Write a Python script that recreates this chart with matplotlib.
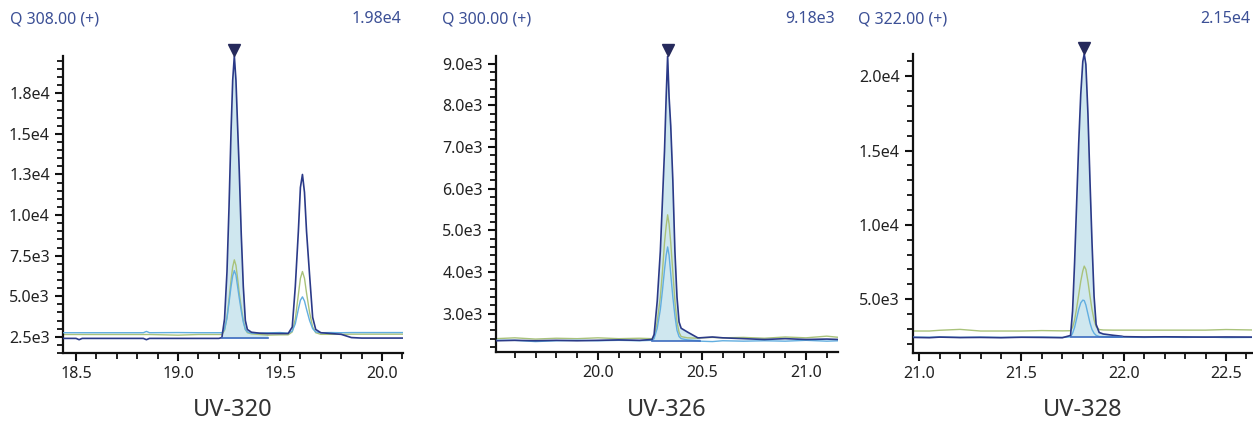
"""Three extracted-ion chromatograms (UV-320 / UV-326 / UV-328) side by side."""
import numpy as np
import matplotlib.pyplot as plt
from matplotlib.ticker import FixedLocator, MultipleLocator
from matplotlib.transforms import offset_copy

plt.rcParams['font.family'] = ['Noto Sans', 'DejaVu Sans']

# ============================================================
# Data (retention time in min, intensity)
# ============================================================

# --- UV-320 ---
t1 = [18.44, 18.50, 18.515, 18.53, 18.70, 18.83, 18.845, 18.86, 19.00, 19.10, 19.20,
      19.215, 19.228, 19.24, 19.25, 19.26, 19.268, 19.276, 19.284, 19.292, 19.30,
      19.31, 19.32, 19.33, 19.34, 19.36, 19.40, 19.44, 19.50, 19.54, 19.56,
      19.575, 19.59, 19.60, 19.61, 19.62, 19.63, 19.645, 19.66, 19.675, 19.70,
      19.75, 19.80, 19.85, 19.90, 20.00, 20.11]
dark1 = [2400, 2400, 2320, 2400, 2400, 2400, 2320, 2400, 2400, 2400, 2400,
         2450, 3600, 6500, 10500, 15200, 18300, 19800, 18300, 15500, 12800,
         8800, 5600, 3500, 2950, 2780, 2720, 2700, 2700, 2700, 3100,
         5600, 9000, 11700, 12500, 11400, 9000, 6300, 3700, 2950, 2750,
         2700, 2650, 2450, 2420, 2420, 2420]
green1 = [2640, 2640, 2640, 2640, 2640, 2640, 2640, 2640, 2600, 2640, 2640,
          2640, 2900, 3700, 4800, 6000, 6800, 7240, 6900, 6100, 5200,
          4300, 3500, 2950, 2750, 2680, 2640, 2600, 2620, 2620, 2800,
          3600, 5100, 6100, 6520, 6100, 5200, 4000, 3100, 2750, 2650,
          2650, 2650, 2660, 2660, 2660, 2660]
blue1 = [2750, 2750, 2750, 2750, 2750, 2750, 2830, 2750, 2760, 2750, 2750,
         2750, 2950, 3650, 4600, 5600, 6250, 6580, 6300, 5600, 4900,
         4100, 3400, 2950, 2800, 2720, 2720, 2740, 2760, 2720, 2850,
         3300, 4200, 4750, 4960, 4700, 4200, 3500, 3000, 2800, 2750,
         2760, 2750, 2760, 2760, 2760, 2760]

# --- UV-326 ---
t2 = [19.51, 19.60, 19.70, 19.80, 19.90, 20.00, 20.10, 20.20, 20.26,
      20.27, 20.285, 20.30, 20.31, 20.32, 20.328, 20.335, 20.342, 20.35, 20.36,
      20.37, 20.38, 20.39, 20.40, 20.43, 20.48, 20.49, 20.55, 20.60, 20.70,
      20.80, 20.90, 21.00, 21.10, 21.16]
dark2 = [2350, 2360, 2350, 2360, 2350, 2360, 2370, 2360, 2380,
         2500, 3300, 4500, 5700, 6900, 8200, 9180, 8200, 7500, 6200,
         4500, 3400, 2800, 2650, 2560, 2420, 2420, 2440, 2420, 2400,
         2380, 2400, 2380, 2390, 2380]
green2 = [2400, 2420, 2390, 2410, 2400, 2420, 2400, 2410, 2400,
          2450, 2800, 3400, 4000, 4700, 5100, 5370, 5150, 4700, 4000,
          3300, 2800, 2550, 2450, 2420, 2410, 2420, 2430, 2420, 2430,
          2410, 2440, 2420, 2460, 2430]
blue2 = [2360, 2360, 2330, 2350, 2360, 2350, 2360, 2350, 2360,
         2400, 2650, 3100, 3550, 4050, 4400, 4600, 4400, 3950, 3400,
         2950, 2600, 2450, 2400, 2370, 2350, 2340, 2330, 2350, 2340,
         2350, 2340, 2360, 2340, 2350]

# --- UV-328 ---
t3 = [20.97, 21.05, 21.10, 21.20, 21.30, 21.40, 21.50, 21.60, 21.70, 21.74,
      21.75, 21.76, 21.77, 21.78, 21.79, 21.80, 21.807, 21.815, 21.825, 21.835,
      21.845, 21.855, 21.865, 21.88, 21.90, 21.95, 21.99, 22.00, 22.10, 22.20,
      22.30, 22.40, 22.50, 22.63]
dark3 = [2420, 2400, 2440, 2410, 2420, 2400, 2430, 2420, 2400, 2550,
         4200, 7500, 11500, 15500, 18800, 21000, 21500, 20800, 17500, 13000,
         8800, 5200, 3300, 2750, 2650, 2560, 2500, 2470, 2450, 2460,
         2450, 2440, 2450, 2440]
green3 = [2850, 2850, 2900, 2960, 2850, 2850, 2850, 2880, 2860, 2870,
          3100, 3600, 4400, 5300, 6200, 6900, 7220, 7000, 6200, 5200,
          4300, 3600, 3150, 2950, 2920, 2910, 2910, 2910, 2910, 2910,
          2910, 2910, 2950, 2920]
blue3 = [2440, 2430, 2450, 2420, 2440, 2420, 2430, 2440, 2420, 2450,
         2700, 3100, 3700, 4300, 4750, 4930, 4900, 4600, 4000, 3400,
         2950, 2700, 2560, 2480, 2460, 2440, 2440, 2440, 2420, 2440,
         2420, 2440, 2410, 2420]

# integration window (start, end) and baseline level for the shaded peak
peak_start = [19.215, 20.26, 21.74]
peak_end = [19.44, 20.49, 21.99]
peak_base = [2400, 2355, 2460]

# header / title text
headers = ['Q 308.00 (+)', 'Q 300.00 (+)', 'Q 322.00 (+)']
max_labels = ['1.98e4', '9.18e3', '2.15e4']
titles = ['UV-320', 'UV-326', 'UV-328']

# axis ranges and tick labels
xlims = [(18.436, 20.103), (19.51, 21.154), (20.97, 22.627)]
ylims = [(1500, 19800), (2080, 9180), (1370, 21500)]
yticks1 = [2500, 5000, 7500, 10000, 12500, 15000, 17500]
ylabels1 = ['2.5e3', '5.0e3', '7.5e3', '1.0e4', '1.3e4', '1.5e4', '1.8e4']
yticks2 = [3000, 4000, 5000, 6000, 7000, 8000, 9000]
ylabels2 = ['3.0e3', '4.0e3', '5.0e3', '6.0e3', '7.0e3', '8.0e3', '9.0e3']
yticks3 = [5000, 10000, 15000, 20000]
ylabels3 = ['5.0e3', '1.0e4', '1.5e4', '2.0e4']
yminor = [500, 200, 1000]

# colours
DARK = '#2b3a88'
GREEN = '#a9c27a'
BLUE = '#62aee0'
FILL = '#cfe7ef'
BASE = '#3d6cc0'
MARK = '#262a5c'
HEAD = '#3c5096'

W, H = 1253, 426
# axes boxes in pixels: left, top, right, bottom
boxes = [(63, 56, 403, 353), (496, 56, 838, 352), (913, 54, 1252, 353)]
head_left = [10, 442, 858]
head_right = [401, 835, 1250]

fig = plt.figure(figsize=(W / 100, H / 100), dpi=100)

panels = [(t1, dark1, green1, blue1, yticks1, ylabels1),
          (t2, dark2, green2, blue2, yticks2, ylabels2),
          (t3, dark3, green3, blue3, yticks3, ylabels3)]

for i, (t, dark, green, blue, yt, yl) in enumerate(panels):
    l, top, r, b = boxes[i]
    ax = fig.add_axes([l / W, 1 - b / H, (r - l) / W, (b - top) / H])
    t = np.array(t)
    dark = np.array(dark)

    # shaded integrated area under the main trace
    mask = (t >= peak_start[i]) & (t <= peak_end[i])
    ax.fill_between(t, dark, peak_base[i], where=mask, color=FILL, lw=0, zorder=1)

    ax.plot(t, green, color=GREEN, lw=1.0, zorder=2)
    ax.plot(t, blue, color=BLUE, lw=1.0, zorder=3)
    ax.plot(t, dark, color=DARK, lw=1.2, zorder=4)
    ax.plot([peak_start[i], peak_end[i]], [peak_base[i], peak_base[i]],
            color=BASE, lw=1.2, zorder=5)

    # apex marker just above the peak
    k = np.argmax(dark)
    tr = offset_copy(ax.transData, fig=fig, y=6, units='dots')
    ax.plot(t[k], dark[k], marker='v', color=MARK, markersize=8,
            transform=tr, clip_on=False, zorder=6)

    ax.set_xlim(*xlims[i])
    ax.set_ylim(*ylims[i])
    ax.xaxis.set_major_locator(MultipleLocator(0.5))
    ax.xaxis.set_minor_locator(MultipleLocator(0.1))
    ax.xaxis.set_major_formatter(plt.FormatStrFormatter('%.1f'))
    ax.yaxis.set_major_locator(FixedLocator(yt))
    ax.set_yticklabels(yl)
    ax.yaxis.set_minor_locator(MultipleLocator(yminor[i]))

    for side in ['top', 'right']:
        ax.spines[side].set_visible(False)
    for side in ['left', 'bottom']:
        ax.spines[side].set_linewidth(1.6)
        ax.spines[side].set_color('#111111')
    ax.tick_params(which='major', length=6, width=1.5, pad=3.5,
                   labelsize=11.5, colors='#111111', labelcolor='#222222')
    ax.tick_params(which='minor', length=4, width=1.3, colors='#111111')

    # header and title text
    fig.text(head_left[i] / W, 1 - 19 / H, headers[i], ha='left', va='center',
             fontsize=11.5, color=HEAD)
    fig.text(head_right[i] / W, 1 - 19 / H, max_labels[i], ha='right', va='center',
             fontsize=11.5, color=HEAD)
    fig.text((l + r) / 2 / W, 1 - 410 / H, titles[i], ha='center', va='center',
             fontsize=17, color='#333333')

fig.savefig('out.png', dpi=100)
